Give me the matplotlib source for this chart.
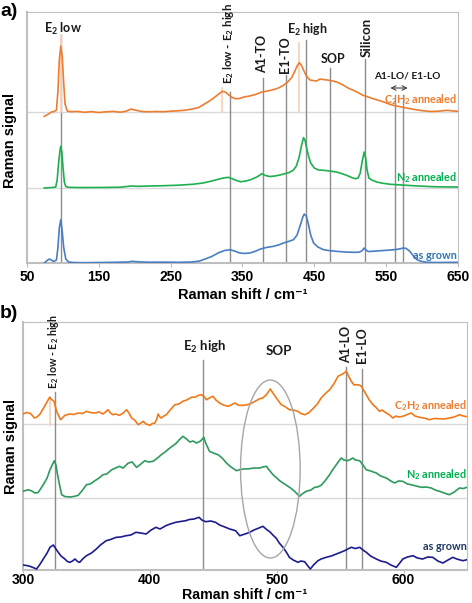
import numpy as np
import matplotlib.pyplot as plt
from matplotlib.patches import Ellipse

plt.rcParams['font.family'] = ['Liberation Sans', 'DejaVu Sans']
plt.rcParams['mathtext.default'] = 'regular'

# ---- panel a: (raman shift, signal above own baseline) ----
a_c2h2 = [(74, -4.3), (80, -2), (84, 0), (88, 0.5), (91, 2), (93, 20), (95, 52), (97, 66), (99, 56),
          (101, 30), (103, 8), (106, 1), (110, 0.3), (120, 0.6), (130, -0.3), (140, 0.4), (150, -0.5),
          (160, 0.2), (170, 0.6), (180, -0.2), (188, 0.8), (195, 3), (200, 2), (210, 0.5), (220, 0.2),
          (230, 0.5), (240, 0.3), (250, 0.8), (260, 1.2), (270, 1.8), (280, 3), (289, 4.5), (296, 7.5),
          (303, 10.5), (310, 14), (316, 17.5), (322, 20.7), (326, 20), (331, 17), (336, 14.5), (340, 13.3),
          (346, 13.5), (352, 15), (360, 16), (368, 17.5), (377, 20), (385, 21), (393, 22.3), (400, 24),
          (407, 26.7), (413, 30), (419, 35), (423, 41), (426, 46), (429, 49.3), (432, 47), (435, 42),
          (439, 36), (444, 32), (448, 31.5), (453, 31), (458, 33), (462, 32.5), (468, 32), (476, 31),
          (483, 29.5), (490, 27), (497, 24), (505, 21.5), (512, 19), (518, 16.7), (525, 15), (532, 13.3),
          (540, 11.5), (547, 10), (554, 8), (560, 6.7), (568, 5.5), (575, 4.5), (582, 3.5), (590, 2.5),
          (597, 1.7), (605, 1), (612, 0.5), (620, 0.7), (628, 1.2), (636, 1.7), (643, 1), (650, 0.8)]
a_n2 = [(74, 0), (85, 0.5), (90, 1), (92, 8), (94, 25), (96, 38), (97, 41.7), (98.5, 36), (100, 22),
        (102, 6), (104, 1.5), (108, 0.7), (120, 0.5), (140, 0.5), (160, 0.6), (180, 0.8), (195, 2),
        (205, 1.7), (220, 2), (240, 2.3), (260, 2.8), (280, 3.7), (295, 5), (307, 7), (315, 8.5),
        (322, 9.8), (330, 10.7), (335, 9.5), (340, 8), (347, 6.3), (355, 7), (362, 8.5), (370, 11),
        (377, 14.3), (382, 12.5), (388, 11.5), (395, 12), (402, 13), (409, 14.3), (415, 15.5), (421, 18),
        (425, 22), (429, 31), (432, 42), (435, 50.3), (437, 48), (439, 41), (442, 32), (445, 25),
        (450, 20), (456, 18), (463, 17.7), (472, 17), (481, 16), (488, 14.5), (495, 12.7), (502, 10.5),
        (507, 9.3), (511, 10), (514, 15), (517, 28), (519.5, 36), (521.5, 30), (523.5, 18), (526, 10),
        (530, 8), (537, 6), (545, 4.8), (556, 3.7), (568, 3.2), (579, 2.7), (595, 2), (616, 1.3),
        (635, 1.1), (650, 1)]
a_grown = [(74, 0), (78, 2.5), (81, 4), (84, 3), (87, 1.5), (91, 3), (93, 15), (95, 35), (97, 43.3),
           (99, 32), (101, 16), (104, 4), (108, 1), (115, 0.5), (130, 0.3), (150, 0.5), (170, 0.7),
           (190, 1), (196, 1.7), (205, 1.2), (220, 0.8), (240, 0.9), (260, 0.7), (280, 1), (290, 2),
           (298, 4), (307, 6.5), (316, 10), (325, 12.5), (333, 13.3), (339, 12), (345, 10.3), (352, 9.6),
           (360, 10), (367, 11.5), (375, 14), (383, 15.5), (393, 16.7), (400, 18), (407, 20), (414, 21.5),
           (421, 23.3), (426, 28), (430, 36.7), (434, 46), (436, 49), (439, 46.7), (442, 38), (445, 28),
           (449, 20), (455, 16), (463, 13.3), (472, 12.3), (481, 11.7), (493, 11), (505, 10.7),
           (512, 10.8), (516, 12), (519.5, 15), (522, 13), (525, 11.5), (533, 11.8), (542, 12.3),
           (552, 12.8), (561, 13.3), (568, 14), (574, 15), (578, 14.6), (583, 11.7), (588, 7), (593, 3.3),
           (600, 1.5), (607, 0.7), (620, 0.5), (635, 0.6), (650, 0.7)]

# ---- panel b ----
b_c2h2 = [(300, 10), (303, 11.5), (306, 10.5), (309, 6), (311, 7), (313.5, 10), (317, 17.7), (319, 22),
          (321, 26.7), (323, 24), (324.5, 22.7), (326.5, 12.7), (329.6, 4.3), (331, 6), (333, 8.7),
          (337, 10), (340, 9.5), (343.6, 11), (347, 10.5), (350, 12.7), (353, 11.5), (356.7, 11), (360, 12),
          (363, 10), (365, 12), (367, 14.3), (369, 11), (371, 9.3), (373, 10), (376, 8.7), (379, 11),
          (381.7, 14.3), (384, 10), (385.6, 6), (388, 4), (390.8, -0.7), (393, 1), (394.7, 2.7), (397, 0),
          (400, -1.3), (402, 0.5), (404, 1), (405.5, 5), (406.5, 10), (408, 7), (409, 6), (411, 8),
          (413, 9.3), (416, 14), (419.7, 19.3), (423, 20), (426, 22.7), (429, 24), (432.8, 26.7), (436, 27),
          (438, 28.5), (440.7, 29.3), (443, 27), (444.6, 24.3), (447, 26), (449.8, 27.7), (452, 24),
          (455, 21), (458, 19), (461.7, 17.7), (464, 19), (467, 21), (470, 18.7), (473.5, 18.7), (476, 19),
          (478.7, 20), (482, 22), (486.6, 25.3), (489, 26), (491.9, 29.3), (495, 35), (497, 31),
          (499.7, 26), (502, 22), (503.7, 19.3), (507, 17), (510, 14.3), (513, 14), (516.8, 12.7),
          (519, 10.5), (522, 9.3), (525, 11), (528.6, 15.3), (532, 20), (535, 26), (538, 30), (541.7, 34.3),
          (545, 40), (548.3, 47.7), (552, 50), (554.9, 52.7), (557, 47), (558.8, 42.7), (561, 39),
          (562.7, 39.3), (565, 39), (566.7, 37.7), (568, 35), (570.6, 29.3), (573, 24), (575.9, 19.3),
          (578, 17), (581, 12.7), (583, 14), (586.4, 11), (589, 9), (591.6, 6), (594, 8), (596, 7),
          (599.4, 7.7), (602, 9), (606, 11), (609, 8), (612.6, 6.7), (616, 6), (620.5, 4.3), (624, 5.5),
          (628.3, 5.3), (632, 5), (636, 6), (640, 7), (644, 9.3), (647, 8), (650, 7.3)]
b_n2 = [(300, 6.7), (302, 7.5), (304.2, 8.3), (307, 7), (309.4, 5), (312, 5.5), (316, 13.3), (319, 20),
        (321.3, 28.3), (323, 33), (324.7, 37.3), (326, 33), (327, 25), (329, 12), (330.5, 3.3), (333, 1.5),
        (337, 1), (340, 1.5), (343.6, 2.7), (347, 8), (350, 13.3), (353, 14), (356.7, 17.3), (360, 20),
        (363, 23.3), (366, 24), (370, 28.3), (373, 30), (376, 31.7), (379, 30), (383, 35), (386, 36),
        (389.5, 30.7), (392, 33), (396, 37.3), (399, 36), (402.6, 36.7), (406, 40), (409, 43.3), (412, 46),
        (415.7, 50), (418, 52), (421, 55), (423, 58), (426, 61.7), (429, 59), (431.5, 56), (434, 57),
        (436.8, 55), (440, 57), (442.5, 60.7), (444, 55), (447, 46.7), (450, 45), (453.8, 43.3), (457, 40),
        (460.4, 35), (464, 31), (468.3, 27.3), (470.9, 28.3), (474, 29), (478.7, 29.3), (482, 30),
        (486.6, 30), (489, 31), (491.9, 31.7), (494, 28), (497.1, 23.3), (500, 20), (502.3, 17.3),
        (505, 15), (508.9, 11.7), (511, 10), (514.1, 6.7), (518, 1.7), (520, 4), (523.3, 6.7), (527, 8),
        (529.9, 10.7), (532, 11), (535, 12.7), (538, 17), (541.7, 23.3), (544, 28), (547, 33.3), (549, 37),
        (551, 40), (553, 38), (556, 37.3), (558, 38.5), (560, 40), (562, 38), (565.4, 37.3), (568, 33),
        (570.6, 28.3), (574, 27), (578.5, 25), (582, 22), (586.4, 20), (590, 17), (593, 15), (596, 17),
        (599.4, 16.7), (603, 14), (606, 13.3), (610, 12), (614, 10.7), (618, 11), (621.8, 10), (625, 8),
        (628.3, 6.7), (632, 5), (636, 3.3), (640, 6), (644, 10), (647, 9.5), (650, 10.7)]
b_grown = [(300, 5), (303, 4.5), (305.5, 3.7), (308, 2.5), (310.7, 1), (313, 5), (316, 11), (319, 17),
           (321.3, 22.7), (323.9, 25), (326, 21), (327.8, 17.7), (330, 14), (333, 11), (335, 8.5),
           (337, 7.7), (339, 9), (341, 11), (343, 8.5), (344.7, 7.7), (347, 11), (350, 14.3), (354, 17),
           (357.8, 21), (361, 25), (365.6, 29.3), (369, 30.5), (373.5, 32.7), (377, 33), (381.3, 34.3),
           (385, 35), (389, 37.7), (393, 37), (397, 36), (401, 40), (404.8, 42.7), (408, 41), (412.6, 44.3),
           (416, 46), (420.4, 47.7), (424, 48.5), (428.3, 49.3), (431, 50.5), (434.8, 51), (438.8, 52.7),
           (441, 50), (444, 48.3), (448, 49), (451.8, 47.7), (455, 45), (459.7, 42.7), (463, 41),
           (467.6, 39.3), (470.9, 34.3), (475, 36), (478.7, 37.7), (482, 40), (484, 41), (486, 42),
           (489.2, 43.7), (492, 40.5), (494.5, 38.3), (497, 35), (499.7, 31.7), (502, 27), (505, 22.7),
           (508, 17), (510, 12.7), (513, 10), (516.8, 7.7), (519, 9), (522, 8.3), (524, 5), (526.5, 1),
           (529, 5), (532.5, 9.3), (535, 11), (539, 12.7), (543, 14), (547, 16), (550, 17.5), (553.5, 19.3),
           (556, 21), (558.8, 22.7), (562, 21.5), (565.4, 22.7), (568, 20), (570.6, 17.7), (574, 14),
           (578.5, 11), (582, 9), (586.4, 7.7), (590, 5), (594.3, 2.7), (597, 7), (599.4, 11), (603, 13),
           (607.4, 14.3), (611, 12), (615, 11), (619, 13), (623, 12.7), (627, 9), (631, 7), (635, 10),
           (638.8, 12.7), (642, 11), (646.7, 9.3), (650, 10.3)]

series_names = ['C$_2$H$_2$ annealed', 'N$_2$ annealed', 'as grown']
offsets_a = [151, 75, 0]
offsets_b = [146, 72, 0]
x_title = 'Raman shift / cm\u207b\u00b9'

# mode markers
modes_a = [98, 333, 378, 410, 438, 472, 520, 562, 573]
modes_a_orange = [97, 322, 429]
modes_b = [325, 442, 555, 567]
modes_b_orange = [321]

colors_a = ['#ED7D31', '#1DB04F', '#4A7EC4']
colors_b = ['#F07A1A', '#2E9A5E', '#1C1C8E']
label_colors_a = ['#ED7D31', '#00B050', '#2E75B6']
label_colors_b = ['#ED7D31', '#00B050', '#1F3864']

grid_c = '#D9D9D9'
vline_c = '#8C8C8C'
orange_line_c = '#FAD3B8'
ann = dict(family=['Lato', 'DejaVu Sans'], fontsize=9, color='#1A1A1A', fontweight='bold')
lab_font = dict(family=['Lato', 'DejaVu Sans'], fontsize=7.8, fontweight='bold')

fig = plt.figure(figsize=(4.72, 6.03), dpi=100)
ax_a = fig.add_axes([0.0572, 0.5638, 0.913, 0.4163])
ax_b = fig.add_axes([0.0487, 0.0547, 0.9407, 0.4113])


def style_axes(ax, xlim, ylim, ticks):
    ax.set_xlim(*xlim)
    ax.set_ylim(*ylim)
    ax.set_yticks([])
    ax.set_xticks(ticks)
    for s in ax.spines.values():
        s.set_color('#BFBFBF')
        s.set_linewidth(0.8)
    ax.spines['left'].set_linewidth(1.5)
    ax.spines['bottom'].set_linewidth(1.5)
    ax.tick_params(axis='x', length=3, color='#BFBFBF', pad=2, labelsize=10)
    for lab in ax.get_xticklabels():
        lab.set_fontweight('bold')


# ---------------- panel a ----------------
style_axes(ax_a, (50, 650), (0, 251), [50, 150, 250, 350, 450, 550, 650])
ax_a.set_xlabel(x_title, fontsize=10.5, fontweight='bold', labelpad=3)
for off in offsets_a[:2]:
    ax_a.axhline(off, color=grid_c, lw=1, zorder=1)

tops_a = [228, 171, 185, 188, 223, 195, 204, 168, 168]
for x, t in zip(modes_a, tops_a):
    ax_a.plot([x, x], [0, t], color=vline_c, lw=1, zorder=2)
for x, (b0, t) in zip(modes_a_orange, [(151, 228), (151, 175), (151, 220)]):
    ax_a.plot([x, x], [b0, t], color=orange_line_c, lw=1.3, zorder=2)

for data, off, c in zip([a_c2h2, a_n2, a_grown], offsets_a, colors_a):
    x, y = np.array(data).T
    ax_a.plot(x, y + off, color=c, lw=1.2, zorder=3)

ax_a.text(100, 234, 'E$_2$ low', ha='center', va='center', **ann)
ax_a.text(331, 179, 'E$_2$ low - E$_2$ high', rotation=90, ha='center', va='bottom',
          **{**ann, 'fontsize': 8.3})
ax_a.text(377, 190, 'A1-TO', rotation=90, ha='center', va='bottom', **ann)
ax_a.text(409, 190, 'E1-TO', rotation=90, ha='center', va='bottom', **ann)
ax_a.text(440, 233, 'E$_2$ high', ha='center', va='center', **ann)
ax_a.text(476, 204, 'SOP', ha='center', va='center', **ann)
ax_a.text(523, 206, 'Silicon', rotation=90, ha='center', va='bottom', **{**ann, 'fontsize': 9.5})
ax_a.text(579, 187, 'A1-LO/ E1-LO', ha='center', va='center', **{**ann, 'fontsize': 7.3})
ax_a.annotate('', xy=(552, 175), xytext=(584, 175),
              arrowprops=dict(arrowstyle='<->', color='#404040', lw=0.8, mutation_scale=8))

label_y_a = [163, 85, 8]
for name, ly, c in zip(series_names, label_y_a, label_colors_a):
    ax_a.text(649, ly, name, ha='right', va='center', color=c, **lab_font)

# ---------------- panel b ----------------
style_axes(ax_b, (300, 650), (0, 248), [300, 400, 500, 600])
ax_b.tick_params(axis='x', pad=0.5, length=2)
for off in offsets_b[:2]:
    ax_b.axhline(off, color=grid_c, lw=1, zorder=1)

tops_b = [178, 210, 203, 201]
for x, t in zip(modes_b, tops_b):
    ax_b.plot([x, x], [0, t], color=vline_c, lw=1, zorder=2)
ax_b.plot([modes_b_orange[0]] * 2, [145, 173], color=orange_line_c, lw=1.3, zorder=2)

for data, off, c in zip([b_c2h2, b_n2, b_grown], offsets_b, colors_b):
    x, y = np.array(data).T
    ax_b.plot(x, y + off, color=c, lw=1.2, zorder=3)

ax_b.add_patch(Ellipse((495, 101), 47, 178, fill=False, edgecolor='#A6A6A6', lw=1, zorder=4))

ax_b.text(324, 181, 'E$_2$ low - E$_2$ high', rotation=90, ha='center', va='bottom',
          **{**ann, 'fontsize': 7.7})
ax_b.text(443, 223, 'E$_2$ high', ha='center', va='center', **{**ann, 'fontsize': 9.5})
ax_b.text(501.5, 219, 'SOP', ha='center', va='center', **{**ann, 'fontsize': 9.5})
ax_b.text(555, 207, 'A1-LO', rotation=90, ha='center', va='bottom', **ann)
ax_b.text(567, 207, 'E1-LO', rotation=90, ha='center', va='bottom', **ann)

label_y_b = [164, 95, 24]
for name, ly, c in zip(series_names, label_y_b, label_colors_b):
    ax_b.text(650, ly, name, ha='right', va='center', color=c, **lab_font)

# panel tags, axis titles
fig.text(0.0, 1 - 12 / 603, 'a)', fontsize=14, fontweight='bold', va='center', ha='left')
fig.text(0.0, 1 - 313 / 603, 'b)', fontsize=14, fontweight='bold', va='center', ha='left')
fig.text(10 / 472, 1 - 140 / 603, 'Raman signal', rotation=90, fontsize=10.5,
         fontweight='bold', ha='center', va='center')
fig.text(11 / 472, 1 - 446 / 603, 'Raman signal', rotation=90, fontsize=10.5,
         fontweight='bold', ha='center', va='center')
fig.text(245 / 472, 1 / 603, x_title, fontsize=10.2, fontweight='bold',
         ha='center', va='bottom')

fig.savefig('out.png', dpi=100)
